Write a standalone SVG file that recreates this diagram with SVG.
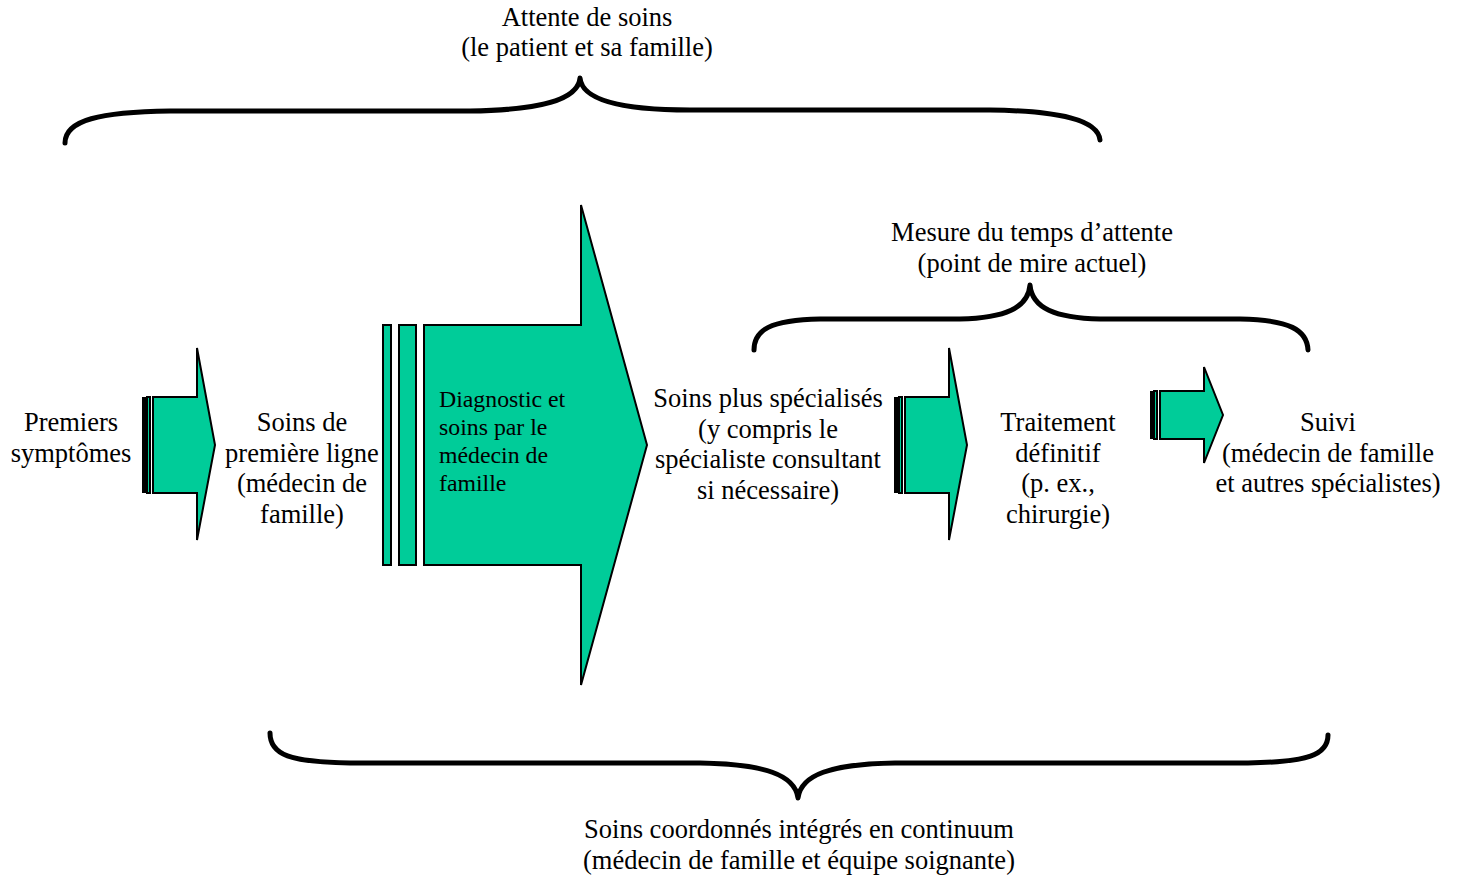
<svg xmlns="http://www.w3.org/2000/svg" width="1457" height="877" viewBox="0 0 1457 877">
<style>
.t{font-family:"Liberation Serif","Times New Roman",serif;font-size:26.5px;fill:#000;text-anchor:middle}
.l{text-anchor:start;font-size:23.8px}
.g{fill:#00CC99;stroke:#000;stroke-width:2}
.b{fill:none;stroke:#000;stroke-width:5;stroke-linecap:round;stroke-linejoin:round}
</style>
<rect width="1457" height="877" fill="#fff"/>
<g id="connectors">
<path class="b" d="M65,143 C65,120 100,112 170,111 L470,111 C540,110 578,100 580,78 C582,100 620,110 690,110 L990,110 C1060,111 1098,120 1100,140"/>
<path class="b" d="M754,350 C754,330 770,320 820,319 L960,319 C1005,318 1028,308 1030,285 C1032,308 1055,318 1100,319 L1240,319 C1290,320 1307,330 1308,350"/>
<path class="b" d="M270,733 C270,755 290,762 350,763 L700,763 C765,764 795,775 798,798 C801,775 830,764 895,763 L1248,763 C1308,762 1328,755 1328,735"/>
</g>
<g id="arrow1">
<rect x="142" y="397" width="4" height="96" fill="#000"/>
<rect class="g" x="147" y="397" width="3" height="96"/>
<path class="g" d="M153,397 L197,397 L197,348 L215,445 L197,540 L197,493 L153,493 Z"/>
</g>
<g id="arrow2">
<rect class="g" x="383" y="325" width="8" height="240"/>
<rect class="g" x="399" y="325" width="17" height="240"/>
<path class="g" d="M424,325 L581,325 L581,205 L647,445 L581,685 L581,565 L424,565 Z"/>
<text class="t l" x="439" y="407">Diagnostic et</text>
<text class="t l" x="439" y="435">soins par le</text>
<text class="t l" x="439" y="463">médecin de</text>
<text class="t l" x="439" y="491">famille</text>
</g>
<g id="arrow3">
<rect x="894" y="397" width="4" height="96" fill="#000"/>
<rect class="g" x="899" y="397" width="3" height="96"/>
<path class="g" d="M905,397 L949,397 L949,348 L967,445 L949,540 L949,493 L905,493 Z"/>
</g>
<g id="arrow4">
<rect x="1150" y="391" width="3" height="48" fill="#000"/>
<rect class="g" x="1154" y="391" width="3" height="48"/>
<path class="g" d="M1160,391 L1204,391 L1204,367 L1223,415 L1204,463 L1204,439 L1160,439 Z"/>
</g>
<g id="premiers">
<text class="t" x="71" y="431">Premiers</text>
<text class="t" x="71" y="462">symptômes</text>
</g>
<g id="soins-premiere">
<text class="t" x="302" y="431">Soins de</text>
<text class="t" x="302" y="462">première ligne</text>
<text class="t" x="302" y="492">(médecin de</text>
<text class="t" x="302" y="523">famille)</text>
</g>
<g id="soins-specialises">
<text class="t" x="768" y="407">Soins plus spécialisés</text>
<text class="t" x="768" y="438">(y compris le</text>
<text class="t" x="768" y="468">spécialiste consultant</text>
<text class="t" x="768" y="499">si nécessaire)</text>
</g>
<g id="traitement">
<text class="t" x="1058" y="431">Traitement</text>
<text class="t" x="1058" y="462">définitif</text>
<text class="t" x="1058" y="492">(p. ex.,</text>
<text class="t" x="1058" y="523">chirurgie)</text>
</g>
<g id="suivi">
<text class="t" x="1328" y="431">Suivi</text>
<text class="t" x="1328" y="462">(médecin de famille</text>
<text class="t" x="1328" y="492">et autres spécialistes)</text>
</g>
<g id="attente">
<text class="t" x="587" y="26">Attente de soins</text>
<text class="t" x="587" y="56">(le patient et sa famille)</text>
</g>
<g id="mesure">
<text class="t" x="1032" y="241">Mesure du temps d’attente</text>
<text class="t" x="1032" y="272">(point de mire actuel)</text>
</g>
<g id="coordonnes">
<text class="t" x="799" y="838">Soins coordonnés intégrés en continuum</text>
<text class="t" x="799" y="869">(médecin de famille et équipe soignante)</text>
</g>
</svg>
